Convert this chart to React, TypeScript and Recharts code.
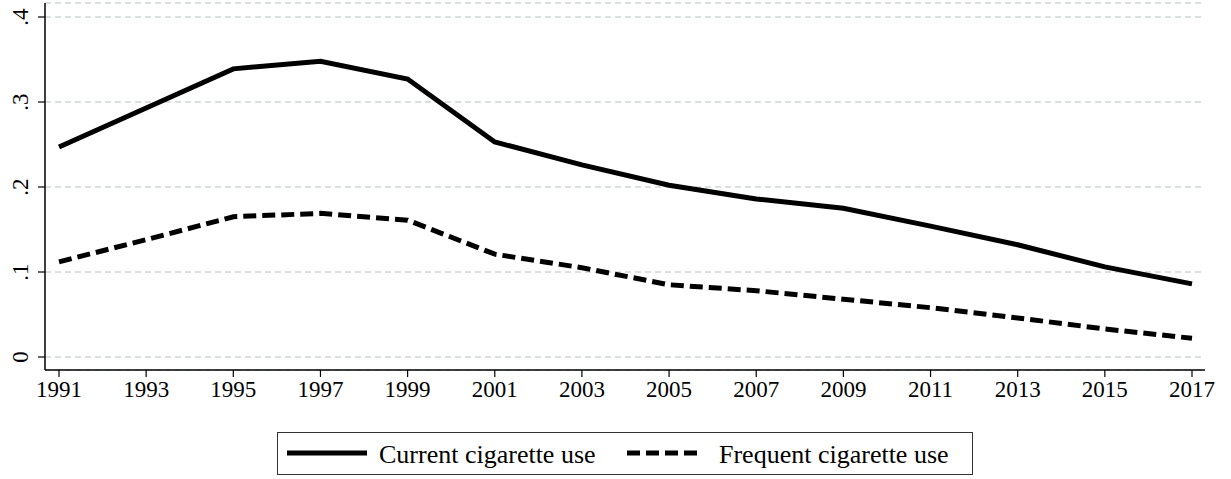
import React from "react";
import { LineChart, Line, XAxis, YAxis, CartesianGrid } from "recharts";

// survey years and shares
const years = [1991, 1993, 1995, 1997, 1999, 2001, 2003, 2005, 2007, 2009, 2011, 2013, 2015, 2017];
const currentUse = [0.247, 0.293, 0.339, 0.348, 0.327, 0.253, 0.226, 0.202, 0.186, 0.175, 0.154, 0.132, 0.106, 0.086];
const frequentUse = [0.112, 0.138, 0.165, 0.169, 0.161, 0.121, 0.105, 0.085, 0.078, 0.068, 0.058, 0.046, 0.033, 0.022];
const yTicks = [0, 0.1, 0.2, 0.3, 0.4];
const yTickLabels = ["0", ".1", ".2", ".3", ".4"];
const seriesNames = ["Current cigarette use", "Frequent cigarette use"];

const data = years.map((year, i) => ({
  year,
  current: currentUse[i],
  frequent: frequentUse[i],
}));

const serif = "'Liberation Serif', 'Times New Roman', serif";

const XTick = (props: any) => {
  const { x, y, payload } = props;
  return (
    <text x={x} y={y + 18} textAnchor="middle" fontSize={23} fontFamily={serif} fill="#000">
      {payload.value}
    </text>
  );
};

const YTick = (props: any) => {
  const { x, y, payload } = props;
  const idx = yTicks.indexOf(payload.value);
  const label = idx >= 0 ? yTickLabels[idx] : String(payload.value);
  const bx = x - 8;
  return (
    <text
      x={bx}
      y={y}
      transform={`rotate(-90, ${bx}, ${y})`}
      textAnchor="middle"
      fontSize={23}
      fontFamily={serif}
      fill="#000"
    >
      {label}
    </text>
  );
};

// legend box under the plot, drawn like the Stata one
function LegendBox() {
  return (
    <svg
      width={696}
      height={43}
      style={{ position: "absolute", left: 277, top: 432, display: "block" }}
    >
      <rect x={0.5} y={0.5} width={695} height={42} fill="#fff" stroke="#333" strokeWidth={1} />
      <line x1={10} y1={21} x2={90} y2={21} stroke="#000" strokeWidth={5} />
      <text x={102} y={31} fontSize={26} fontFamily={serif} fill="#000">
        {seriesNames[0]}
      </text>
      <line x1={350} y1={21} x2={420} y2={21} stroke="#000" strokeWidth={5} strokeDasharray="13 6" />
      <text x={442} y={31} fontSize={26} fontFamily={serif} fill="#000">
        {seriesNames[1]}
      </text>
    </svg>
  );
}

export default function App() {
  return (
    <div style={{ position: "absolute", left: 0, top: 0, width: 1231, height: 479, background: "#fff" }}>
      <LineChart width={1231} height={479} data={data} margin={{ top: 3, right: 26, left: 0, bottom: 79 }}>
        <CartesianGrid vertical={false} stroke="#b8c0c0" strokeDasharray="6 4" />
        <XAxis
          dataKey="year"
          type="number"
          domain={[1991, 2017]}
          ticks={years}
          padding={{ left: 14, right: 13 }}
          axisLine={{ stroke: "#000", strokeWidth: 1.5 }}
          tickLine={{ stroke: "#000", strokeWidth: 1.2 }}
          tickSize={7}
          tick={<XTick />}
          height={30}
          interval={0}
        />
        <YAxis
          type="number"
          domain={[0, 0.4]}
          ticks={yTicks}
          padding={{ top: 14, bottom: 13 }}
          width={45}
          axisLine={{ stroke: "#000", strokeWidth: 1.5 }}
          tickLine={{ stroke: "#000", strokeWidth: 1.2 }}
          tickSize={7}
          tick={<YTick />}
          interval={0}
        />
        <Line
          type="linear"
          dataKey="current"
          name={seriesNames[0]}
          stroke="#000"
          strokeWidth={5}
          dot={false}
          isAnimationActive={false}
        />
        <Line
          type="linear"
          dataKey="frequent"
          name={seriesNames[1]}
          stroke="#000"
          strokeWidth={5}
          strokeDasharray="13 6"
          dot={false}
          isAnimationActive={false}
        />
      </LineChart>
      <LegendBox />
    </div>
  );
}
